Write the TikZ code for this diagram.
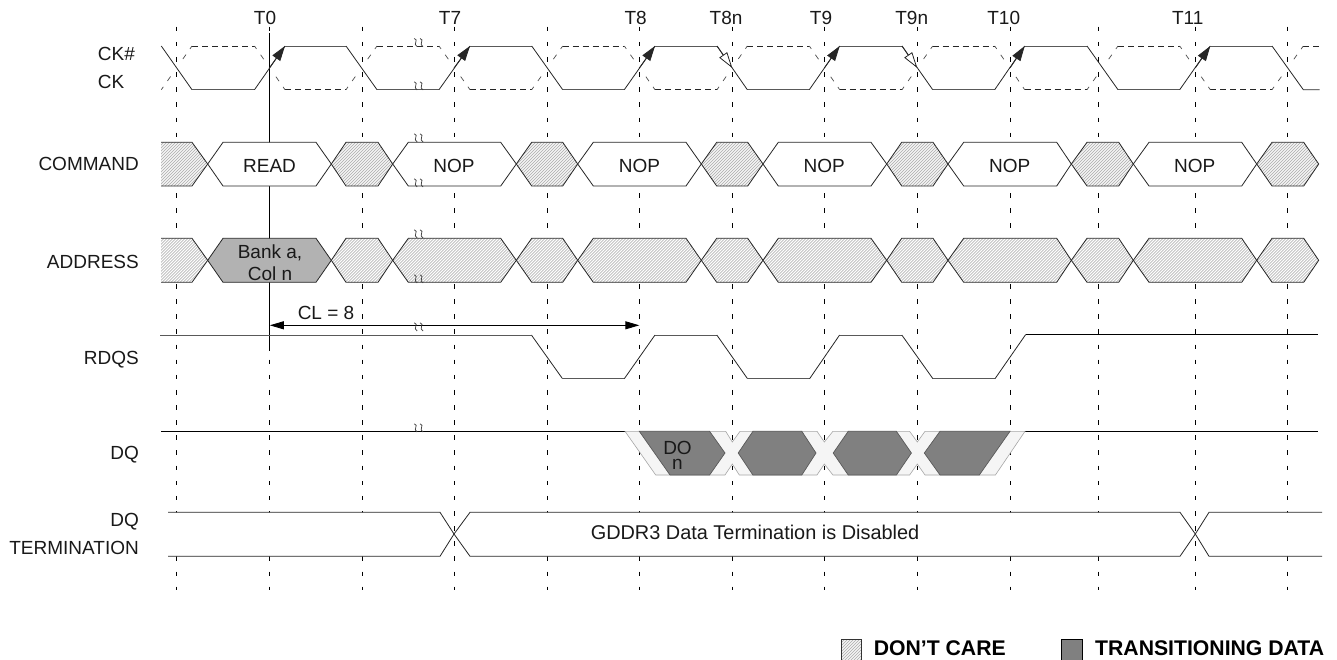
\documentclass[tikz,border=0pt]{standalone}
\usepackage{fontspec}
\setmainfont{Liberation Sans}
\usetikzlibrary{arrows.meta}
\tikzset{
  x=1pt,y=-1pt,
  sig/.style={line width=.8pt,draw=black!85},
  edge/.style={line width=1pt,draw=black!65},
  grid/.style={line width=.9pt,draw=black,dash pattern=on 4.6pt off 10.535pt},
  flatdash/.style={line width=.75pt,draw=black!85,dash pattern=on 6pt off 4pt},
  diagdash/.style={line width=.7pt,draw=black!70,dash pattern=on 3.5pt off 7.2pt on 5.4pt off 21.4pt on 5.4pt off 7pt on 3.6pt off 50pt},
  lbl/.style={font=\fontsize{19}{21}\selectfont,inner sep=0pt,text=black!90},
  leg/.style={font=\fontsize{21.2}{24}\selectfont\bfseries,inner sep=0pt,anchor=west},
  white box/.style={sig,fill=white},
  hatchline/.style={line width=.75pt,draw=black!28},
  solidtip/.style={-{Triangle[length=15pt,width=9.5pt]}},
  opentip/.style={-{Triangle[open,length=16pt,width=9.5pt,fill=white]}},
}
% #1 style, #2-#5 x positions, #6 middle y
\newcommand{\hexa}[6]{%
  \path[#1] (#2,#6) -- (#3,\rt) -- (#4,\rt) -- (#5,#6) -- (#4,\rb) -- (#3,\rb) -- cycle;}
% hatched hexagon
\newcommand{\hatchhexa}[5]{%
  \begin{scope}
    \clip (#1,#5) -- (#2,\rt) -- (#3,\rt) -- (#4,#5) -- (#3,\rb) -- (#2,\rb) -- cycle;
    \fill[white] (#1,\rt) rectangle (#4,\rb);
    \pgfmathsetmacro{\hstart}{int((#1-46)/3)*3}
    \pgfmathsetmacro{\hnext}{\hstart+3}
    \foreach \hx in {\hstart,\hnext,...,#4}{
      \draw[hatchline] (\hx,\rb) -- (\hx+46,\rb-46);
    }
  \end{scope}
  \hexa{sig}{#1}{#2}{#3}{#4}{#5}}
\newcommand{\squig}[2]{%
  \draw[line width=.75pt,black!75] (#1-4.6,#2-4.2) .. controls (#1+.6,#2-3) and (#1-6.6,#2+1.5) .. (#1-1.6,#2+4);
  \draw[line width=.75pt,black!75] (#1+1.2,#2-4.2) .. controls (#1+6.4,#2-3) and (#1-.8,#2+1.5) .. (#1+4.2,#2+4);}
\begin{document}
\begin{tikzpicture}
\useasboundingbox (0,0) rectangle (1337,659);
% grid
\foreach \g in {176.3,269.3,362.3,454,547.3,639.3,732.3,824.3,917.3,1010,1098.3,1195.3,1287.3}{
  \draw[grid] (\g,26.7) -- (\g,590);
}
\draw[line width=.9pt,black] (269.3,33) -- (269.3,350.7);
% T labels
\foreach \n/\x/\t in {t0/265/T0,t7/450/T7,t8/635.7/T8,t8n/726/T8n,t9/821/T9,t9n/911.7/T9n,t10/1003.7/T10,t11/1187.7/T11}{
  \node[lbl] (\n) at (\x,18) {\t};
}
% row labels
\node[lbl,anchor=west] (ckh) at (97.7,54) {CK\#};
\node[lbl,anchor=west] (ck) at (97.7,82) {CK};
\node[lbl,anchor=east] (cmd) at (139,164) {COMMAND};
\node[lbl,anchor=east] (addr) at (139,262) {ADDRESS};
\node[lbl,anchor=east] (rdqs) at (139,360) {RDQS};
\node[lbl,anchor=east] (dq) at (139,455) {DQ};
\node[lbl,anchor=east] (dqt) at (139,522) {DQ};
\node[lbl,anchor=east] (term) at (139,548) {TERMINATION};
% CK# dashed
\foreach \a/\b in {192/254.5,377/439,562.7/624.3,747.3/809.3,932.7/994.7,1118/1179.7,1303.3/1319.7}{
  \draw[flatdash] (\a,46) -- (\b,46);
}
\foreach \a/\b in {285/346,470/531.7,655/717,839.7/902,1024.7/1087,1210.3/1272}{
  \draw[flatdash] (\a,89.7) -- (\b,89.7);
}
\foreach \a/\b in {161.3/192,346/377,531.7/562.7,717/747.3,902/932.7,1087/1118,1272/1303.3}{
  \draw[diagdash] (\a,89.7) -- (\b,46);
}
\foreach \a/\b in {254.5/285,439/470,624.3/655,809.3/839.7,994.7/1024.7,1179.7/1210.3}{
  \draw[diagdash] (\a,46) -- (\b,89.7);
}
% CK
\draw[sig] (161.3,46) -- (192,89.7);
\foreach \a/\b/\c/\d in {192/254.5/285/346,377/439/470/531.7,562.7/624.3/655/717,747.3/809.3/839.7/902,932.7/994.7/1024.7/1087,1118/1179.7/1210.3/1272}{
  \draw[edge] (\a,89.7) -- (\b,89.7);
  \draw[sig] (\b,89.7) -- (\c,46);
  \draw[edge] (\c,46) -- (\d,46);
}
\draw[sig] (346,46) -- (377,89.7);
\draw[sig] (531.7,46) -- (562.7,89.7);
\draw[sig] (717,46) -- (747.3,89.7);
\draw[sig] (902,46) -- (932.7,89.7);
\draw[sig] (1087,46) -- (1118,89.7);
\draw[sig] (1272,46) -- (1303.3,89.7) -- (1319.7,89.7);
% clock arrows
\foreach \x/\c in {269.3/285,454/470,639.3/655,824.3/839.7,1010/1024.7,1195.3/1210.3}{
  \coordinate (cross) at (\x,68);
  \coordinate (up) at (\c,46);
  \draw[sig,solidtip] (cross) -- (up);
}
\foreach \a/\x in {717/732.3,902/917.3}{
  \coordinate (hi) at (\a,46);
  \coordinate (cross) at (\x,68);
  \draw[sig,opentip] (hi) -- (cross);
}
% COMMAND / ADDRESS don't-care parts
\foreach \tp/\bt/\md in {142.3/186/164,238.3/282.3/260.3}{
  \def\rt{\tp}\def\rb{\bt}
  \begin{scope}
    \clip (161,\tp) -- (192,\tp) -- (207.7,\md) -- (192,\bt) -- (161,\bt) -- cycle;
    \fill[white] (161,\tp) rectangle (208,\bt);
    \foreach \hx in {114,117,...,207}{
      \draw[hatchline] (\hx,\bt) -- (\hx+46,\bt-46);
    }
  \end{scope}
  \draw[sig] (161,\tp) -- (192,\tp) -- (207.7,\md) -- (192,\bt) -- (161,\bt);
  \hatchhexa{331.3}{346}{378}{392.7}{\md}
  \hatchhexa{516.3}{531.7}{562.7}{577.7}{\md}
  \hatchhexa{701.3}{716.7}{747.7}{763}{\md}
  \hatchhexa{886.7}{901.7}{933}{948}{\md}
  \hatchhexa{1071.3}{1087}{1118.7}{1133.3}{\md}
  \hatchhexa{1256.7}{1272}{1303.7}{1318.7}{\md}
}
\def\rt{142.3}\def\rb{186}
\foreach \a/\b/\c/\d in {207.7/223/316/331.3,392.7/408.3/500.7/516.3,577.7/593.3/686/701.3,763/778.3/871/886.7,948/963.7/1056.7/1071.3,1133.3/1149/1241.7/1256.7}{
  \hexa{white box}{\a}{\b}{\c}{\d}{164}
}
\def\rt{238.3}\def\rb{282.3}
\hexa{sig,fill=black!30}{207.7}{223}{316}{331.3}{260.3}
\foreach \a/\b/\c/\d in {392.7/408.3/500.7/516.3,577.7/593.3/686/701.3,763/778.3/871/886.7,948/963.7/1056.7/1071.3,1133.3/1149/1241.7/1256.7}{
  \hatchhexa{\a}{\b}{\c}{\d}{260.3}
}
% labels in boxes
\node[lbl] (read) at (269.5,166) {READ};
\foreach \n/\x in {nopa/454,nopb/639.5,nopc/824.3,nopd/1009.7,nope/1194.7}{
  \node[lbl] (\n) at (\x,166) {NOP};
}
\node[lbl] (bank) at (270,252.5) {Bank a,};
\node[lbl] (col) at (270,274) {Col n};
% CL arrow
\coordinate (cla) at (269.8,325.3);
\coordinate (clb) at (639.3,325.3);
\draw[line width=.9pt,black,{Triangle[length=14pt,width=8pt]}-{Triangle[length=14pt,width=8pt]}] (cla) -- (clb);
\node[lbl] (cl) at (326,312.5) {CL = 8};
% RDQS
\draw[edge] (160,335) -- (531.4,335);
\draw[sig] (531.4,335) -- (562.5,378.7);
\foreach \a/\b/\c/\d in {562.5/624.3/655/716.8,747.5/809.6/839.6/901.8}{
  \draw[edge] (\a,378.7) -- (\b,378.7);
  \draw[sig] (\b,378.7) -- (\c,335);
  \draw[edge] (\c,335) -- (\d,335);
}
\draw[sig] (716.8,335) -- (747.5,378.7);
\draw[sig] (901.8,335) -- (932.9,378.7);
\draw[edge] (932.9,378.7) -- (995,378.7);
\draw[sig] (995,378.7) -- (1025.7,334.5);
\draw[line width=.9pt,black] (1025.7,334.5) -- (1318,334.5);
% DQ
\draw[line width=.9pt,black] (161,431.3) -- (625,431.3);
\draw[line width=.9pt,black] (1025,431.3) -- (1318,431.3);
\path[draw=black!35,line width=.6pt,fill=black!4]
  (625,431.3) -- (725.7,431.3) -- (732.3,442) -- (740,431.3) -- (817,431.3) -- (824.3,442) -- (832.9,431.3)
  -- (909.6,431.3) -- (917.3,442) -- (925,431.3) -- (1025,431.3) -- (995.4,475)
  -- (925,475) -- (917.3,464) -- (909.6,475) -- (832.9,475) -- (824.3,464) -- (817,475)
  -- (739.3,475) -- (732.3,464) -- (725,475) -- (655.7,475) -- cycle;
\tikzset{dqdark/.style={fill=black!50,draw=black!65,line width=.7pt}}
\path[dqdark] (639.3,431.3) -- (709.6,431.3) -- (725,453) -- (709.6,475) -- (670,475) -- cycle;
\path[dqdark] (738.2,453) -- (752.9,431.3) -- (801.8,431.3) -- (816,453) -- (801.8,475) -- (752.9,475) -- cycle;
\path[dqdark] (833.2,453) -- (848.2,431.3) -- (896.4,431.3) -- (911.4,453) -- (896.4,475) -- (848.2,475) -- cycle;
\path[dqdark] (924.3,453) -- (940,431.3) -- (1010,431.3) -- (979.3,475) -- (940,475) -- cycle;
\node[lbl,align=center,font=\fontsize{19}{15.7}\selectfont] (do) at (677.5,455.35) {DO\\n};
% Termination
\path[sig,fill=white] (168,512.3) -- (440,512.3) -- (454,534) -- (440,556.3) -- (168,556.3);
\path[sig,fill=white] (1322,512.3) -- (1209,512.3) -- (1195.3,534) -- (1209,556.3) -- (1322,556.3);
\path[sig,fill=white] (454,534) -- (470,512.3) -- (1180,512.3) -- (1195.3,534) -- (1180,556.3) -- (470,556.3) -- cycle;
\node[lbl,font=\fontsize{19.9}{22}\selectfont] (gddr) at (755,532) {GDDR3 Data Termination is Disabled};
% squiggles
\foreach \y in {42.7,86,138,183,234,279,327,428}{
  \squig{418.8}{\y}
}
% legend
\begin{scope}
  \clip (841.5,639.5) rectangle (861.5,662);
  \fill[white] (841.5,639.5) rectangle (861.5,662);
  \foreach \hx in {795,798,...,861}{
    \draw[hatchline] (\hx,662) -- (\hx+46,662-46);
  }
\end{scope}
\draw[line width=.9pt,black!80] (841.5,639.5) rectangle (861.5,662);
\path[fill=black!50,draw=black,line width=.9pt] (1061.5,639.5) rectangle (1082,662);
\node[leg] (dc) at (873.6,648) {DON’T CARE};
\node[leg] (td) at (1095,648) {TRANSITIONING DATA};
\end{tikzpicture}
\end{document}
